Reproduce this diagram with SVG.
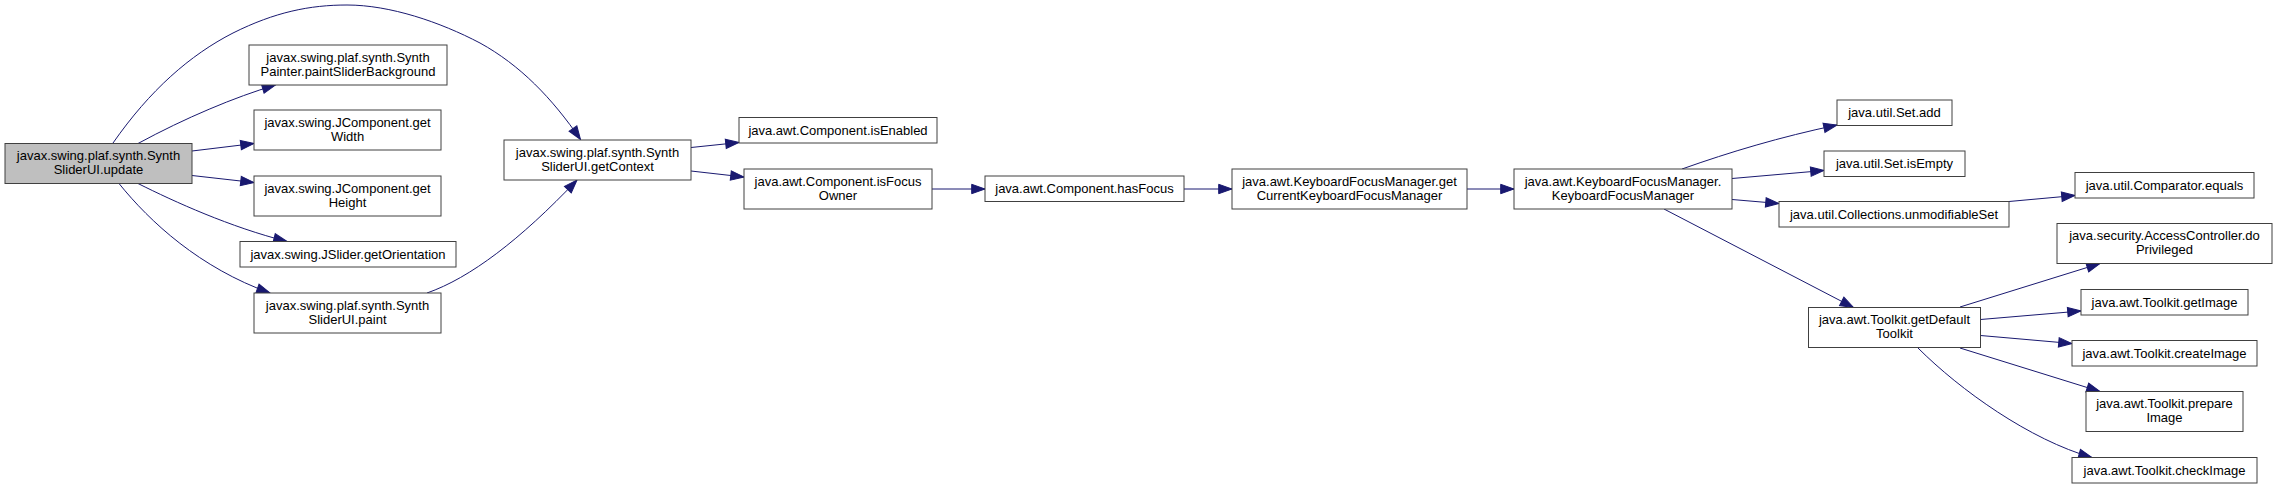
<svg xmlns="http://www.w3.org/2000/svg" width="2277" height="489" viewBox="0 0 2277 489">
<style>
.n rect{fill:#ffffff;stroke:#404040;stroke-width:1}
.n.root rect{fill:#bfbfbf}
.n text{font-family:"Liberation Sans",Arial,sans-serif;font-size:13px;fill:#000000;text-anchor:middle}
.e path{fill:none;stroke:#191970;stroke-width:1;marker-end:url(#arr)}
</style>
<defs>
<marker id="arr" markerUnits="userSpaceOnUse" markerWidth="16" markerHeight="12" refX="13.3" refY="0" viewBox="0 -6 16 12" orient="auto" overflow="visible">
<path d="M0,-4.7 L13.3,0 L0,4.7 Z" fill="#191970" stroke="#191970" stroke-width="1"/>
</marker>
</defs>
<rect width="2277" height="489" fill="#ffffff"/>
<g id="edges" class="e">
<path d="M113,143 C150,90 190,55 233,33 C275,12 310,5 347,5 C390,5 440,22 480,43 C520,65 552,98 580.5,139.5"/>
<path d="M138,143.5 C185,118 235,97 275.5,85"/>
<path d="M192,151 L254,143.5"/>
<path d="M192,175.5 L254,182.5"/>
<path d="M138,183.5 C175,202 230,227 287,241.5"/>
<path d="M119,183.5 C150,222 200,268 270,293"/>
<path d="M427,293 C470,278 520,240 577,180"/>
<path d="M691,147.5 L739,142.5"/>
<path d="M691,171 L744,177"/>
<path d="M932,189 L985,189"/>
<path d="M1184,189 L1232,189"/>
<path d="M1467,189 L1514,189"/>
<path d="M1682,169 C1730,152 1780,137 1837,125"/>
<path d="M1732,178.5 L1824,170.5"/>
<path d="M1732,199.5 L1779,203.5"/>
<path d="M1664,209 L1853.5,307.5"/>
<path d="M2009,201.5 L2075,195.5"/>
<path d="M1960,307 L2100,263.5"/>
<path d="M1980.5,319.5 L2081,311"/>
<path d="M1980.5,335.5 L2072,343.5"/>
<path d="M1960,348 L2100,391.5"/>
<path d="M1918,348 C1960,390 2030,440 2092,457.5"/>
</g>
<g id="node_update" class="n root"><rect x="5" y="143.5" width="187" height="40"/><text x="98.5" y="160">javax.swing.plaf.synth.Synth</text><text x="98.5" y="174">SliderUI.update</text></g>
<g id="node_paintSliderBackground" class="n"><rect x="249" y="45" width="198" height="40"/><text x="348" y="61.5">javax.swing.plaf.synth.Synth</text><text x="348" y="75.5">Painter.paintSliderBackground</text></g>
<g id="node_getWidth" class="n"><rect x="254" y="110" width="187" height="40"/><text x="347.5" y="126.5">javax.swing.JComponent.get</text><text x="347.5" y="140.5">Width</text></g>
<g id="node_getHeight" class="n"><rect x="254" y="176" width="187" height="40"/><text x="347.5" y="192.5">javax.swing.JComponent.get</text><text x="347.5" y="206.5">Height</text></g>
<g id="node_getOrientation" class="n"><rect x="240" y="241.5" width="216" height="25.5"/><text x="348" y="258.5">javax.swing.JSlider.getOrientation</text></g>
<g id="node_paint" class="n"><rect x="254" y="293" width="187" height="40"/><text x="347.5" y="309.5">javax.swing.plaf.synth.Synth</text><text x="347.5" y="323.5">SliderUI.paint</text></g>
<g id="node_getContext" class="n"><rect x="504" y="140" width="187" height="40"/><text x="597.5" y="156.5">javax.swing.plaf.synth.Synth</text><text x="597.5" y="170.5">SliderUI.getContext</text></g>
<g id="node_isEnabled" class="n"><rect x="739" y="117.5" width="198" height="25.5"/><text x="838" y="134.5">java.awt.Component.isEnabled</text></g>
<g id="node_isFocusOwner" class="n"><rect x="744" y="169" width="188" height="40"/><text x="838" y="185.5">java.awt.Component.isFocus</text><text x="838" y="199.5">Owner</text></g>
<g id="node_hasFocus" class="n"><rect x="985" y="176" width="199" height="25.5"/><text x="1084.5" y="193">java.awt.Component.hasFocus</text></g>
<g id="node_getCurrentKFM" class="n"><rect x="1232" y="169" width="235" height="40"/><text x="1349.5" y="185.5">java.awt.KeyboardFocusManager.get</text><text x="1349.5" y="199.5">CurrentKeyboardFocusManager</text></g>
<g id="node_KFM" class="n"><rect x="1514" y="169" width="218" height="40"/><text x="1623" y="185.5">java.awt.KeyboardFocusManager.</text><text x="1623" y="199.5">KeyboardFocusManager</text></g>
<g id="node_setAdd" class="n"><rect x="1837" y="100" width="115" height="25.5"/><text x="1894.5" y="117">java.util.Set.add</text></g>
<g id="node_setIsEmpty" class="n"><rect x="1824" y="151" width="141" height="25.5"/><text x="1894.5" y="168">java.util.Set.isEmpty</text></g>
<g id="node_unmodifiableSet" class="n"><rect x="1779" y="201.5" width="230" height="25.5"/><text x="1894" y="218.5">java.util.Collections.unmodifiableSet</text></g>
<g id="node_getDefaultToolkit" class="n"><rect x="1808.5" y="307.5" width="172" height="40"/><text x="1894.5" y="324">java.awt.Toolkit.getDefault</text><text x="1894.5" y="338">Toolkit</text></g>
<g id="node_comparatorEquals" class="n"><rect x="2075" y="172.5" width="179" height="25.5"/><text x="2164.5" y="189.5">java.util.Comparator.equals</text></g>
<g id="node_doPrivileged" class="n"><rect x="2057" y="223.5" width="215" height="40"/><text x="2164.5" y="240">java.security.AccessController.do</text><text x="2164.5" y="254">Privileged</text></g>
<g id="node_getImage" class="n"><rect x="2081" y="289.5" width="167" height="25.5"/><text x="2164.5" y="306.5">java.awt.Toolkit.getImage</text></g>
<g id="node_createImage" class="n"><rect x="2072" y="340.5" width="185" height="25.5"/><text x="2164.5" y="357.5">java.awt.Toolkit.createImage</text></g>
<g id="node_prepareImage" class="n"><rect x="2086" y="391.5" width="157" height="40"/><text x="2164.5" y="408">java.awt.Toolkit.prepare</text><text x="2164.5" y="422">Image</text></g>
<g id="node_checkImage" class="n"><rect x="2072" y="457.5" width="185" height="25.5"/><text x="2164.5" y="474.5">java.awt.Toolkit.checkImage</text></g>
</svg>
